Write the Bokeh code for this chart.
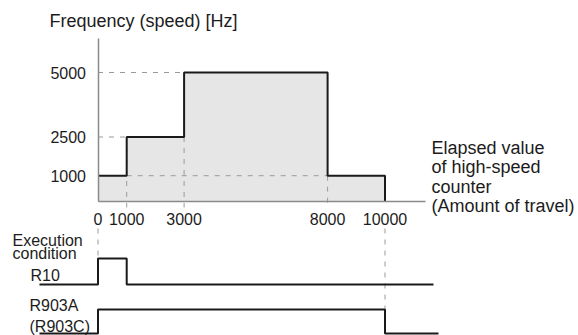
from bokeh.plotting import figure
from bokeh.models import Range1d, LinearAxis, FixedTicker
from bokeh.core.properties import value
from bokeh.embed import file_html
from bokeh.resources import INLINE

# ---------------- data ----------------
freq_x = [0, 1000, 3000, 8000, 10000]      # elapsed counter value where speed changes
freq_y = [1000, 2500, 5000, 1000, 0]       # frequency [Hz] from that point on
y_ticks = [1000, 2500, 5000]
x_ticks = [0, 1000, 3000, 8000, 10000]
r10_on = [0, 1000]                         # execution condition R10 pulse (counter span)
r903a_on = [0, 10000]                      # R903A (R903C) busy flag (counter span)
title_text = "Frequency (speed) [Hz]"
xlabel_lines = ["Elapsed value", "of high-speed", "counter", "(Amount of travel)"]
r10_lines = ["Execution", "condition", "R10"]
r903_lines = ["R903A", "(R903C)"]

# ---------------- layout (picture pixels) ----------------
W, H = 578, 335
X0, KX = 97.5, 0.0287   # picture x of counter 0, px per count
Y0, KY = 201.0, 0.0258  # picture y of 0 Hz, px per Hz


def cx(px):
    return (px - X0) / KX


def fy(py):
    return (Y0 - py) / KY


FONT = "Liberation Sans"
TXT = "#1c1c1c"
GUIDE = "#9a9a9a"
LINE = "#1a1a1a"

p = figure(width=W, height=H, output_backend="svg", toolbar_location=None,
           x_range=Range1d(cx(0), cx(W)), y_range=Range1d(fy(H), fy(0)),
           min_border=0, x_axis_type=None, y_axis_type=None)
p.extra_x_ranges = {"px": Range1d(0, W)}
p.extra_y_ranges = {"px": Range1d(H, 0)}
p.outline_line_color = None
p.background_fill_color = "white"
p.border_fill_color = "white"

# filled area under the speed profile
p.varea_step(x=freq_x, y1=[0] * len(freq_x), y2=freq_y, step_mode="after",
             fill_color="#e6e6e6")

# dashed guide lines
hx0 = [0, 0, freq_x[1]]
hx1 = [freq_x[2], freq_x[1], freq_x[3]]
hy = [freq_y[2], freq_y[1], freq_y[0]]
p.segment(x0=hx0, y0=hy, x1=hx1, y1=hy, line_color=GUIDE, line_width=1,
          line_dash="5 6")
vx = [freq_x[1], freq_x[2], freq_x[3]]
vtop = [freq_y[1], freq_y[1], freq_y[3]]
p.segment(x0=vx, y0=vtop, x1=vx, y1=[fy(207)] * 3, line_color=GUIDE,
          line_width=1, line_dash="5 6")
# guides down into the timing chart
p.segment(x0=[r10_on[0], r903a_on[1]], y0=[228, 228],
          x1=[r10_on[0], r903a_on[1]], y1=[258, 309],
          y_range_name="px", line_color=GUIDE, line_width=1, line_dash="5 6")

# speed profile
p.step(freq_x, freq_y, mode="after", line_width=2, line_color=LINE)

# timing signals
r10_x = [cx(39), r10_on[0], r10_on[0], r10_on[1], r10_on[1], cx(433)]
r10_y = [284, 284, 258, 258, 284, 284]
p.line(r10_x, r10_y, y_range_name="px", line_width=2, line_color=LINE)
r9_x = [cx(39), r903a_on[0], r903a_on[0], r903a_on[1], r903a_on[1], cx(438)]
r9_y = [333, 333, 309, 309, 333, 333]
p.line(r9_x, r9_y, y_range_name="px", line_width=2, line_color=LINE)

# axes
yax = LinearAxis(fixed_location=0, bounds=(0, fy(38)),
                 ticker=FixedTicker(ticks=y_ticks))
xax = LinearAxis(fixed_location=0, bounds=(0, cx(425)),
                 ticker=FixedTicker(ticks=x_ticks))
for ax in (yax, xax):
    ax.major_tick_in = 0
    ax.major_tick_out = 0
    ax.minor_tick_in = 0
    ax.minor_tick_out = 0
    ax.axis_line_color = "#8a8a8a"
    ax.axis_line_width = 1.5
    ax.major_label_text_font = FONT
    ax.major_label_text_font_size = "16px"
    ax.major_label_text_color = TXT
yax.major_label_standoff = 12
xax.major_label_standoff = 11
p.add_layout(yax, "left")
p.add_layout(xax, "below")

# texts (y = baseline position, shifted for the renderer's baseline handling)
S18, S16 = 8, 7
p.text(x=[49], y=[28 - S18], text=[title_text], x_range_name="px", y_range_name="px",
       text_font=value(FONT), text_font_size="18px", text_color=TXT,
       text_baseline="alphabetic", text_align="left")
p.text(x=[431] * 4, y=[v - S18 for v in (155, 174.5, 194, 213.5)], text=xlabel_lines,
       x_range_name="px", y_range_name="px",
       text_font=value(FONT), text_font_size="18px", text_color=TXT,
       text_baseline="alphabetic", text_align="left")
p.text(x=[12, 12, 30], y=[v - S16 for v in (247, 260, 282)], text=r10_lines,
       x_range_name="px", y_range_name="px",
       text_font=value(FONT), text_font_size="16px", text_color=TXT,
       text_baseline="alphabetic", text_align="left")
p.text(x=[29, 29], y=[v - S16 for v in (312, 333)], text=r903_lines,
       x_range_name="px", y_range_name="px",
       text_font=value(FONT), text_font_size="16px", text_color=TXT,
       text_baseline="alphabetic", text_align="left")

open("out.html", "w").write(file_html(p, INLINE))
